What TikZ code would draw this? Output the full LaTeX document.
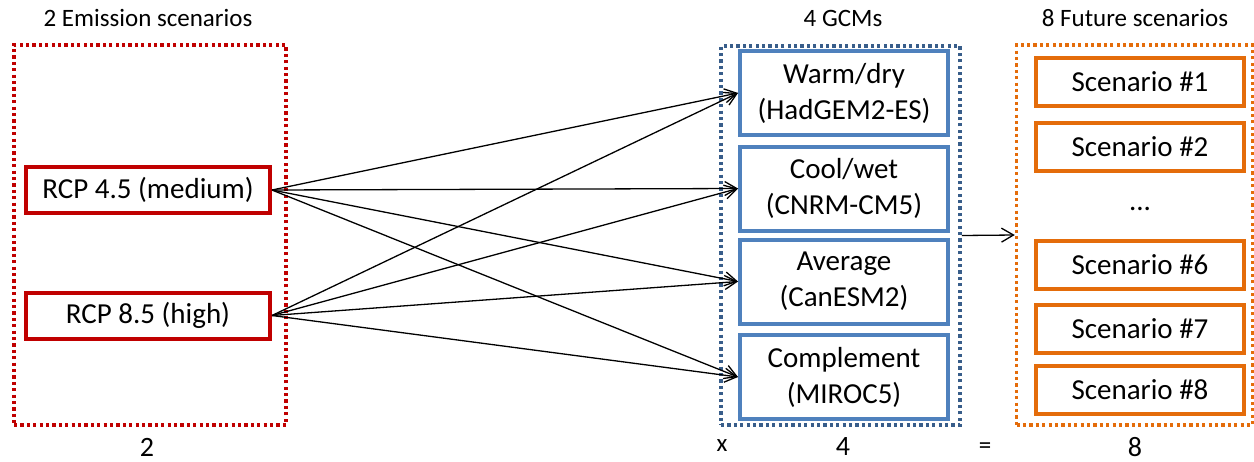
\documentclass[tikz,border=0pt]{standalone}
\usepackage{fontspec}
\setmainfont{Carlito}
\usetikzlibrary{arrows.meta}
\definecolor{cred}{HTML}{C00000}
\definecolor{cblue}{HTML}{4F81BD}
\definecolor{cdblue}{HTML}{385D8A}
\definecolor{corange}{HTML}{E46C0A}
\tikzset{
  grp/.style={draw, line width=3.5pt, dash pattern=on 3.2pt off 3.2pt, minimum width=#1, inner sep=0pt},
  emis/.style={draw=cred, line width=4pt, minimum width=244pt, minimum height=46pt, inner sep=0pt, font=\fontsize{29}{34}\selectfont},
  gcm/.style={draw=cblue, line width=4pt, minimum width=208pt, minimum height=84pt, inner sep=0pt, align=center, font=\fontsize{29}{36}\selectfont},
  scen/.style={draw=corange, line width=4pt, minimum width=208pt, minimum height=48pt, inner sep=0pt, font=\fontsize{29}{34}\selectfont},
  ttl/.style={font=\fontsize{25}{30}\selectfont},
  num/.style={inner sep=0pt, font=\fontsize{28}{32}\selectfont},
  conn/.style={line width=1.3pt, -{Straight Barb[length=12pt,width=14pt,line width=1.3pt]}}
}
\begin{document}
\begin{tikzpicture}[x=1pt,y=-1pt]
\useasboundingbox (0,0) rectangle (1254,461);
% group boxes
\node[grp=272pt, draw=cred, minimum height=380pt] (emgrp) at (150,235) {};
\node[grp=239pt, draw=cdblue, minimum height=379pt] (gcmgrp) at (840.5,235.5) {};
\node[grp=236pt, draw=corange, minimum height=380pt] (futgrp) at (1134.5,235) {};
% titles
\node[ttl] (t1) at (148,18) {2 Emission scenarios};
\node[ttl] (t2) at (843,18) {4 GCMs};
\node[ttl] (t3) at (1135,18) {8 Future scenarios};
% bottom
\node[num] (n1) at (147,447) {2};
\node[ttl, inner sep=0pt] (nx) at (722,446) {x};
\node[num] (n2) at (843,447) {4};
\node[ttl, inner sep=0pt] (neq) at (985,448) {=};
\node[num] (n3) at (1135,447) {8};
% emission
\node[emis] (r45) at (148,190) {RCP 4.5 (medium)};
\node[emis] (r85) at (148,315.5) {RCP 8.5 (high)};
% GCMs
\node[gcm] (g1) at (844,93) {Warm/dry\\(HadGEM2-ES)};
\node[gcm] (g2) at (844,188.5) {Cool/wet\\(CNRM-CM5)};
\node[gcm] (g3) at (844,281.5) {Average\\(CanESM2)};
\node[gcm] (g4) at (844,377) {Complement\\(MIROC5)};
% scenarios
\node[scen] (s1) at (1140,82) {Scenario \#1};
\node[scen] (s2) at (1140,147) {Scenario \#2};
\node[font=\fontsize{29}{34}\selectfont] (dots) at (1140,209) {...};
\node[scen] (s6) at (1140,264.5) {Scenario \#6};
\node[scen] (s7) at (1140,328.5) {Scenario \#7};
\node[scen] (s8) at (1140,390) {Scenario \#8};
% connectors
\foreach \s in {r45,r85}{
  \foreach \g in {g1,g2,g3,g4}{
    \draw[conn] (\s.east) -- (\g.west);
  }
}
\draw[conn] (gcmgrp.east) -- (futgrp.west);
\end{tikzpicture}
\end{document}
